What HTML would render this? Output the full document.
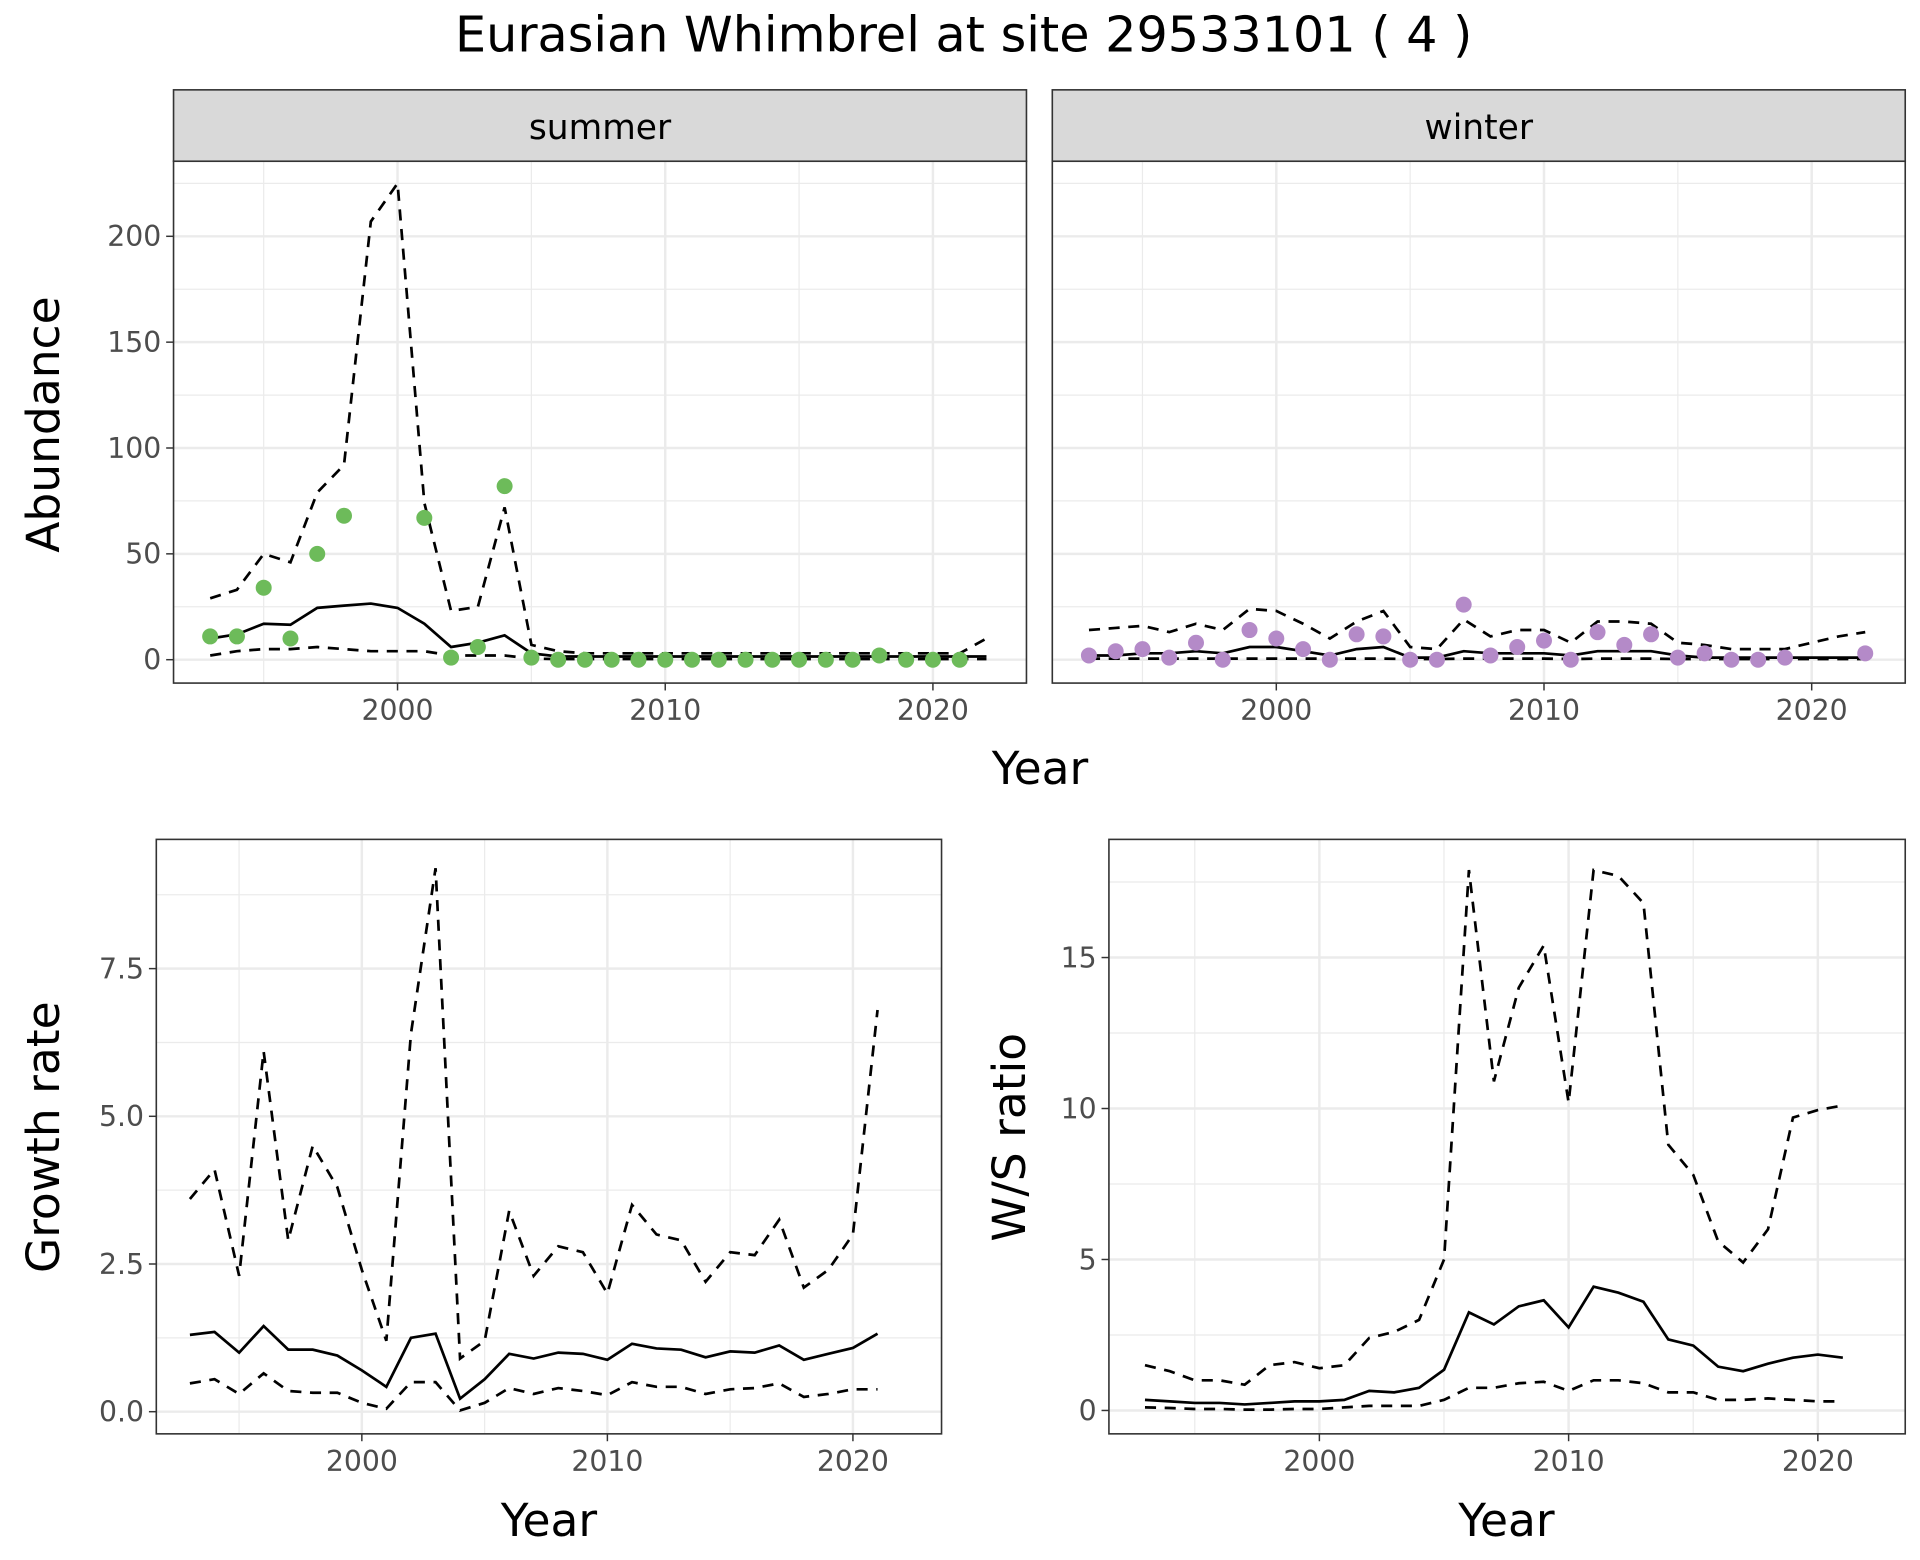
<!DOCTYPE html>
<html><head><meta charset="utf-8"><style>
html,body{margin:0;padding:0;background:#fff;}
svg{display:block;font-family:"DejaVu Sans","Liberation Sans",sans-serif;}
</style></head><body>
<svg id="chart" width="1920" height="1560" viewBox="0 0 1560 1267.5" xmlns="http://www.w3.org/2000/svg">
<rect width="1560" height="1267.5" fill="#fff"/>
<text x="783" y="42" font-size="40" text-anchor="middle">Eurasian Whimbrel at site 29533101 ( 4 )</text>
</svg>
<script>
const years = [1993,1994,1995,1996,1997,1998,1999,2000,2001,2002,2003,2004,2005,2006,2007,2008,2009,2010,2011,2012,2013,2014,2015,2016,2017,2018,2019,2020,2021,2022];
const summerObs = [11,11,34,10,50,68,null,null,67,1,6,82,1,0,0,0,0,0,0,0,0,0,0,0,0,2,0,0,0,null];
const summerMean = [10,12,17,16.5,24.5,25.5,26.5,24.5,17,6,8,11.5,3,1.5,1.5,1.5,1.5,1.5,1.5,1.5,1.5,1.5,1.5,1.5,1.5,1.5,1.5,1.5,1.5,1.5];
const summerUpper = [29,33,50,46,79,92,207,225,74,23,25,72,7,4,3,3,3,3,3,3,3,3,3,3,3,3,3,3,3,10];
const summerLower = [2,4,5,5,6,5,4,4,4,2,2,2,0.5,0.3,0.3,0.3,0.3,0.3,0.3,0.3,0.3,0.3,0.3,0.3,0.3,0.3,0.3,0.3,0.3,0.3];
const winterObs = [2,4,5,1,8,0,14,10,5,0,12,11,0,0,26,2,6,9,0,13,7,12,1,3,0,0,1,null,null,3];
const winterMean = [2,2,3,3,4,3,6,6,4,2,5,6,1,1,4,3,3,3,2,4,4,4,2,1,1,1,1,1,1,1];
const winterUpper = [14,15,16,13,17,14,24,23,17,10,18,23,6,5,19,11,14,14,8,18,18,17,8,7,5,5,5,8,11,13];
const winterLower = [0.5,0.5,0.5,0.5,0.5,0.5,0.5,0.5,0.5,0.5,0.5,0.5,0.3,0.3,0.5,0.5,0.5,0.5,0.3,0.5,0.5,0.5,0.3,0.3,0.3,0.3,0.3,0.3,0.3,0.3];
const years2 = [1993,1994,1995,1996,1997,1998,1999,2000,2001,2002,2003,2004,2005,2006,2007,2008,2009,2010,2011,2012,2013,2014,2015,2016,2017,2018,2019,2020,2021];
const growthMean = [1.3,1.35,1.0,1.45,1.05,1.05,0.95,0.7,0.42,1.25,1.32,0.22,0.55,0.98,0.9,1.0,0.98,0.88,1.15,1.07,1.05,0.92,1.02,1.0,1.12,0.88,0.98,1.08,1.32];
const growthUpper = [3.6,4.1,2.3,6.1,2.9,4.5,3.8,2.4,1.2,6.4,9.2,0.9,1.2,3.4,2.3,2.8,2.7,2.0,3.5,3.0,2.9,2.2,2.7,2.65,3.25,2.1,2.4,3.0,6.8];
const growthLower = [0.48,0.55,0.3,0.65,0.35,0.32,0.32,0.15,0.05,0.5,0.5,0.02,0.15,0.4,0.3,0.4,0.35,0.28,0.5,0.42,0.42,0.3,0.38,0.4,0.48,0.25,0.3,0.38,0.38];
const wsMean = [0.35,0.3,0.25,0.25,0.2,0.25,0.3,0.3,0.35,0.65,0.6,0.75,1.35,3.25,2.85,3.45,3.65,2.75,4.1,3.9,3.6,2.35,2.15,1.45,1.3,1.55,1.75,1.85,1.75];
const wsUpper = [1.5,1.3,1.0,1.0,0.85,1.5,1.6,1.4,1.5,2.4,2.6,3.0,5.0,17.9,10.9,14.0,15.4,10.2,17.9,17.7,16.8,8.8,7.8,5.6,4.9,6.0,9.7,9.95,10.1];
const wsLower = [0.1,0.08,0.05,0.05,0.03,0.03,0.05,0.05,0.1,0.15,0.15,0.15,0.35,0.75,0.75,0.9,0.95,0.65,1.0,1.0,0.9,0.6,0.6,0.35,0.35,0.4,0.35,0.3,0.3];
const xTicks = [2000,2010,2020];
const xMinor = [1995,2005,2015];
const abTicks = [0,50,100,150,200];
const grTicks = [0,2.5,5,7.5];
const grLabels = ["0.0","2.5","5.0","7.5"];
const wsTicks = [0,5,10,15];

const svg = document.getElementById('chart');
const NS = 'http://www.w3.org/2000/svg';
function mk(tag, attrs, parent){
  const e = document.createElementNS(NS, tag);
  for (const k in attrs) e.setAttribute(k, attrs[k]);
  (parent||svg).appendChild(e);
  return e;
}
function linScale(d0,d1,r0,r1){ return v => r0 + (v-d0)*(r1-r0)/(d1-d0); }

function panel(name, box, xs, ys, yTicks, yLabels, yMinor, showY){
  const g = mk('g', {});
  
  
  mk('rect', {x:box.x0, y:box.y0, width:box.x1-box.x0, height:box.y1-box.y0, fill:'#fff'}, g);
  yMinor.forEach(v => { const l = mk('line', {x1:box.x0, x2:box.x1, y1:ys(v), y2:ys(v), stroke:'#ebebeb', 'stroke-width':1}, g);   });
  xMinor.forEach(v => { const l = mk('line', {y1:box.y0, y2:box.y1, x1:xs(v), x2:xs(v), stroke:'#ebebeb', 'stroke-width':1}, g);   });
  yTicks.forEach((v,i) => {
    const l = mk('line', {x1:box.x0, x2:box.x1, y1:ys(v), y2:ys(v), stroke:'#ebebeb', 'stroke-width':2}, g);
     
    if (showY){
      mk('line', {x1:box.x0-6, x2:box.x0, y1:ys(v), y2:ys(v), stroke:'#333', 'stroke-width':1.2}, g);
      const t = mk('text', {x:box.x0-10, y:ys(v)+8, 'font-size':23, fill:'#4d4d4d', 'text-anchor':'end'}, g);
      t.textContent = yLabels[i];
       
    }
  });
  xTicks.forEach(v => {
    const l = mk('line', {y1:box.y0, y2:box.y1, x1:xs(v), x2:xs(v), stroke:'#ebebeb', 'stroke-width':2}, g);
     
    mk('line', {y1:box.y1, y2:box.y1+6, x1:xs(v), x2:xs(v), stroke:'#333', 'stroke-width':1.2}, g);
    const t = mk('text', {x:xs(v), y:box.y1+30, 'font-size':23, fill:'#4d4d4d', 'text-anchor':'middle'}, g);
    t.textContent = v;
     
  });
  return g;
}
function border(g, box){
  mk('rect', {x:box.x0, y:box.y0, width:box.x1-box.x0, height:box.y1-box.y0, fill:'none', stroke:'#333', 'stroke-width':1.3}, g);
}
function line(g, xsArr, vals, xs, ys, dashed, name){
  let d = '';
  vals.forEach((v,i) => { if (v==null) return; d += (d?'L':'M') + xs(xsArr[i]).toFixed(1) + ',' + ys(v).toFixed(1); });
  const p = mk('path', {d:d, fill:'none', stroke:'#000', 'stroke-width':2.2, 'stroke-dasharray': dashed ? '9,7' : 'none'}, g);
  
  
}
function points(g, vals, xs, ys, color, name){
  vals.forEach((v,i) => {
    if (v==null) return;
    const c = mk('circle', {cx:xs(years[i]), cy:ys(v), r:6.5, fill:color}, g);
    
    
  });
}
function text(str, x, y, size, name, rot, anchor){
  const t = mk('text', {x:x, y:y, 'font-size':size, fill:'#000', 'text-anchor':anchor||'middle'});
  if (rot) t.setAttribute('transform', `rotate(-90 ${x} ${y})`);
  t.textContent = str;
  
  
  return t;
}
function strip(box, label, name){
  const r = mk('rect', {x:box.x0, y:73, width:box.x1-box.x0, height:58, fill:'#d9d9d9', stroke:'#333', 'stroke-width':1.3});
   
  text(label, (box.x0+box.x1)/2, 113, 28, name+'-label');
}

const sBox = {x0:141, x1:834, y0:131, y1:555};
const sx = linScale(2000,2020,323,758);
const ay = linScale(0,200,536,192);
const abMinor = [25,75,125,175,225];
const gS = panel('summer-panel', sBox, sx, ay, abTicks, abTicks.map(String), abMinor, true);
line(gS, years, summerUpper, sx, ay, true, 'summer-upper-ci');
line(gS, years, summerLower, sx, ay, true, 'summer-lower-ci');
line(gS, years, summerMean, sx, ay, false, 'summer-mean');
points(gS, summerObs, sx, ay, '#6dbb5a', 'summer-count-point');
border(gS, sBox);
strip(sBox, 'summer', 'summer-strip');

const wBox = {x0:855, x1:1548, y0:131, y1:555};
const wx = linScale(2000,2020,1037,1472);
const gW = panel('winter-panel', wBox, wx, ay, abTicks, abTicks.map(String), abMinor, false);
line(gW, years, winterUpper, wx, ay, true, 'winter-upper-ci');
line(gW, years, winterLower, wx, ay, true, 'winter-lower-ci');
line(gW, years, winterMean, wx, ay, false, 'winter-mean');
points(gW, winterObs, wx, ay, '#b48ac8', 'winter-count-point');
border(gW, wBox);
strip(wBox, 'winter', 'winter-strip');

text('Year', 845, 637, 37, 'top-x-axis-title');
text('Abundance', 48, 345, 37, 'abundance-y-axis-title', true);

const gBox = {x0:127, x1:765, y0:682, y1:1165};
const gx = linScale(2000,2020,294,693);
const gy = linScale(0,7.5,1147,787);
const gG = panel('growth-panel', gBox, gx, gy, grTicks, grLabels, [1.25,3.75,6.25,8.75], true);
line(gG, years2, growthUpper, gx, gy, true, 'growth-upper-ci');
line(gG, years2, growthLower, gx, gy, true, 'growth-lower-ci');
line(gG, years2, growthMean, gx, gy, false, 'growth-mean');
border(gG, gBox);
text('Year', 446, 1248, 37, 'growth-x-axis-title');
text('Growth rate', 48, 924, 37, 'growth-y-axis-title', true);

const rBox = {x0:901, x1:1548, y0:682, y1:1165};
const rx = linScale(2000,2020,1072,1477);
const ry = linScale(0,15,1146,778);
const gR = panel('ws-ratio-panel', rBox, rx, ry, wsTicks, wsTicks.map(String), [2.5,7.5,12.5,17.5], true);
line(gR, years2, wsUpper, rx, ry, true, 'ws-upper-ci');
line(gR, years2, wsLower, rx, ry, true, 'ws-lower-ci');
line(gR, years2, wsMean, rx, ry, false, 'ws-mean');
border(gR, rBox);
text('Year', 1224, 1248, 37, 'ws-x-axis-title');
text('W/S ratio', 833, 924, 37, 'ws-y-axis-title', true);
</script>
</body></html>
